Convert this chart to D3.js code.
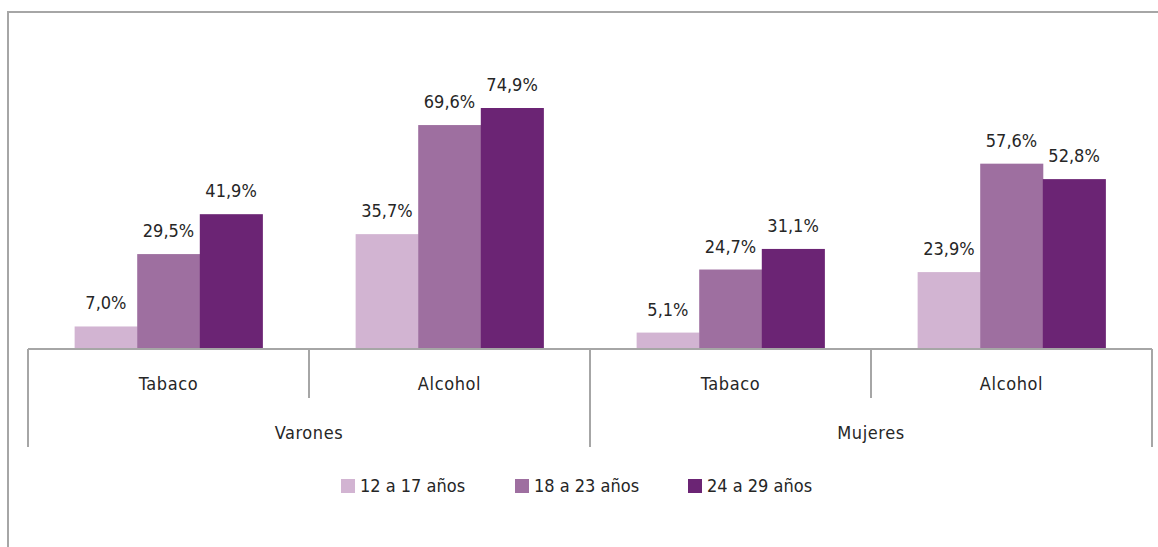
<!DOCTYPE html>
<html>
<head>
<meta charset="utf-8">
<script src="https://cdn.jsdelivr.net/npm/d3@7"></script>
<style>
  body { margin: 0; background: #fff; }
  text { font-family: "Liberation Sans Narrow", "DejaVu Sans Condensed", sans-serif; fill: #262626; }
</style>
</head>
<body>
<div id="chart"></div>
<script>
(function() {
  var width = 1158, height = 547;

  var sexes = ["Varones", "Mujeres"];
  var substances = ["Tabaco", "Alcohol"];
  var ages = ["12 a 17 años", "18 a 23 años", "24 a 29 años"];
  var colors = ["#d2b4d2", "#9e6fa0", "#6b2474"];

  // values by age group, in order Varones-Tabaco, Varones-Alcohol, Mujeres-Tabaco, Mujeres-Alcohol
  var age12 = [7.0, 35.7, 5.1, 23.9];
  var age18 = [29.5, 69.6, 24.7, 57.6];
  var age24 = [41.9, 74.9, 31.1, 52.8];
  var series = [age12, age18, age24];

  var cats = [];
  sexes.forEach(function(s) {
    substances.forEach(function(t) { cats.push(s + "|" + t); });
  });

  var svg = d3.select("#chart").append("svg")
    .attr("width", width)
    .attr("height", height);

  // outer frame
  svg.append("path")
    .attr("d", "M8," + height + "V12H" + width)
    .attr("fill", "none")
    .attr("stroke", "#a6a6a6")
    .attr("stroke-width", 2);

  var x0 = d3.scaleBand().domain(cats).range([28, 1152]).paddingInner(0).paddingOuter(0);
  var x1 = d3.scaleBand().domain(ages).range([0, x0.bandwidth()]).paddingInner(0).paddingOuter(0.745);
  var y = d3.scaleLinear().domain([0, 80]).range([349, 91.6]);

  var data = [];
  cats.forEach(function(c, i) {
    ages.forEach(function(a, j) {
      data.push({ cat: c, age: a, value: series[j][i], color: colors[j] });
    });
  });

  svg.selectAll("rect.bar")
    .data(data)
    .enter().append("rect")
    .attr("class", "bar")
    .attr("x", function(d) { return x0(d.cat) + x1(d.age); })
    .attr("y", function(d) { return y(d.value); })
    .attr("width", x1.bandwidth() + 0.5)
    .attr("height", function(d) { return y(0) - y(d.value); })
    .attr("fill", function(d) { return d.color; });

  svg.selectAll("text.val")
    .data(data)
    .enter().append("text")
    .attr("class", "val")
    .attr("x", function(d) { return x0(d.cat) + x1(d.age) + x1.bandwidth() / 2; })
    .attr("y", function(d) { return y(d.value) - 17; })
    .attr("text-anchor", "middle")
    .attr("font-size", 18)
    .text(function(d) { return d3.format(".1f")(d.value).replace(".", ",") + "%"; });

  // axis line and category separators
  var axis = svg.append("g").attr("stroke", "#a6a6a6").attr("stroke-width", 2);
  axis.append("line").attr("x1", 28).attr("x2", 1152).attr("y1", 349).attr("y2", 349);
  var edges = cats.map(function(c) { return x0(c); }).concat([x0.range()[1]]);
  axis.selectAll("line.tick")
    .data(edges)
    .enter().append("line")
    .attr("class", "tick")
    .attr("x1", function(d) { return d; })
    .attr("x2", function(d) { return d; })
    .attr("y1", 349)
    .attr("y2", function(d, i) { return i % 2 == 0 ? 447 : 398; });

  svg.selectAll("text.cat")
    .data(cats)
    .enter().append("text")
    .attr("class", "cat")
    .attr("x", function(d) { return x0(d) + x0.bandwidth() / 2; })
    .attr("y", 390)
    .attr("text-anchor", "middle")
    .attr("font-size", 18)
    .attr("letter-spacing", 0.6)
    .text(function(d) { return d.split("|")[1]; });

  svg.selectAll("text.sex")
    .data(sexes)
    .enter().append("text")
    .attr("class", "sex")
    .attr("x", function(d, i) { return x0(d + "|" + substances[0]) + x0.bandwidth(); })
    .attr("y", 439)
    .attr("text-anchor", "middle")
    .attr("font-size", 18)
    .attr("letter-spacing", 0.6)
    .text(function(d) { return d; });

  // legend
  var legendX = [341, 515, 688];
  var legend = svg.selectAll("g.legend")
    .data(ages)
    .enter().append("g")
    .attr("class", "legend")
    .attr("transform", function(d, i) { return "translate(" + legendX[i] + ",479)"; });
  legend.append("rect")
    .attr("width", 14).attr("height", 14)
    .attr("fill", function(d, i) { return colors[i]; });
  legend.append("text")
    .attr("x", 19).attr("y", 13)
    .attr("font-size", 18)
    .text(function(d) { return d; });
})();
</script>
</body>
</html>
